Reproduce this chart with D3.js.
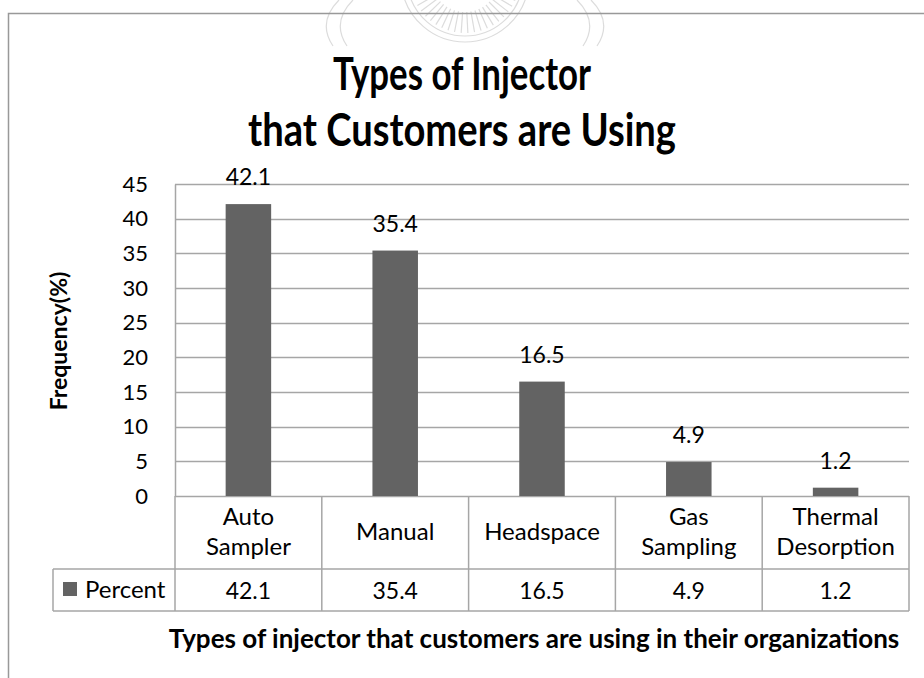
<!DOCTYPE html>
<html>
<head>
<meta charset="utf-8">
<script src="https://cdn.jsdelivr.net/npm/d3@7"></script>
<style>
  html, body { margin: 0; padding: 0; background: #fff; }
  svg { display: block; }
  text { font-family: Lato, "Open Sans", sans-serif; fill: #000; }
</style>
</head>
<body>
<svg id="chart" width="924" height="678"></svg>
<script>
// Injector types and the share of customers using each
const categories = [["Auto", "Sampler"], ["Manual"], ["Headspace"], ["Gas", "Sampling"], ["Thermal", "Desorption"]];
const percentValues = [42.1, 35.4, 16.5, 4.9, 1.2];
const yTicks = [0, 5, 10, 15, 20, 25, 30, 35, 40, 45];
const seriesName = "Percent";
const titleLines = ["Types of Injector", "that Customers are Using"];
const xAxisTitle = "Types of injector that customers are using in their organizations";
const yAxisTitle = "Frequency(%)";

const W = 924, H = 678;
const plot = { left: 175, right: 909, top: 184, bottom: 496 };
const tableRow1 = 569, tableBottom = 611, legendLeft = 53;
const gridColor = "#a6a6a6", barColor = "#636363", frameColor = "#999999";

const svg = d3.select("#chart");
const keys = categories.map(c => c.join(" "));

const x = d3.scaleBand().domain(keys).range([plot.left, plot.right]).padding(0);
const y = d3.scaleLinear().domain([0, 45]).range([plot.bottom, plot.top]);
const barW = x.bandwidth() * 0.31;

// squeeze a text element to a maximum width (narrow typeface look)
function fitWidth(sel, maxW) {
  sel.each(function () {
    const len = this.getComputedTextLength();
    if (len > maxW) d3.select(this).attr("textLength", maxW).attr("lengthAdjust", "spacingAndGlyphs");
  });
  return sel;
}

// faint page emblem behind the top edge
const seal = svg.append("g").attr("fill", "none").attr("stroke", "#dcdcdc").attr("stroke-width", 1.2);
const sc = { x: 465, y: -22 };
const arcGen = d3.arc();
[58, 64].forEach(r => {
  seal.append("path").attr("transform", `translate(${sc.x},${sc.y})`)
    .attr("d", arcGen({ innerRadius: r, outerRadius: r, startAngle: Math.PI * 0.55, endAngle: Math.PI * 1.45 }));
});
d3.range(100, 261, 7).forEach(deg => {
  const a = deg * Math.PI / 180;
  seal.append("line")
    .attr("x1", sc.x + Math.sin(a) * 34).attr("y1", sc.y - Math.cos(a) * 34)
    .attr("x2", sc.x + Math.sin(a) * 55).attr("y2", sc.y - Math.cos(a) * 55);
});
[[-1, 0], [-1, 14], [1, 0], [1, 14]].forEach(([side, off]) => {
  const x0 = sc.x + side * (112 + off);
  seal.append("path")
    .attr("d", `M${x0},0 Q${x0 + side * 22},22 ${x0 + side * 6},46`);
});

// outer frame (left and top edges)
svg.append("path")
  .attr("d", `M8.5,${H} V13.5 H${W}`)
  .attr("fill", "none").attr("stroke", frameColor).attr("stroke-width", 1.5);

// title
const titleWidths = [258, 428];
titleLines.forEach((t, i) => {
  svg.append("text").attr("x", 462).attr("y", 90 + i * 56)
    .attr("text-anchor", "middle").style("font-weight", "bold").style("font-size", "46px")
    .text(t).call(fitWidth, titleWidths[i]);
});

// horizontal gridlines
svg.append("g").selectAll("line").data(yTicks).join("line")
  .attr("x1", plot.left).attr("x2", plot.right)
  .attr("y1", d => Math.round(y(d)) + 0.5).attr("y2", d => Math.round(y(d)) + 0.5)
  .attr("stroke", gridColor).attr("stroke-width", 1.5);

// y axis
const yAxis = svg.append("g")
  .attr("transform", `translate(${plot.left},0)`)
  .call(d3.axisLeft(y).tickValues(yTicks).tickSize(0).tickPadding(27));
yAxis.select(".domain").attr("stroke", gridColor).attr("stroke-width", 1.5);
yAxis.selectAll("text").style("font-size", "22px").attr("fill", "#000")
  .style("font-family", "Lato, sans-serif");

svg.append("text")
  .attr("transform", `translate(67,341) rotate(-90)`)
  .attr("text-anchor", "middle").style("font-weight", "bold").style("font-size", "23px")
  .text(yAxisTitle).call(fitWidth, 148);

// bars
svg.append("g").selectAll("rect").data(percentValues).join("rect")
  .attr("x", (d, i) => x(keys[i]) + (x.bandwidth() - barW) / 2)
  .attr("width", barW)
  .attr("y", d => y(d))
  .attr("height", d => y(0) - y(d))
  .attr("fill", barColor);

// value labels
svg.append("g").selectAll("text").data(percentValues).join("text")
  .attr("x", (d, i) => x(keys[i]) + x.bandwidth() / 2)
  .attr("y", d => y(d) - 19)
  .attr("text-anchor", "middle").style("font-size", "23px")
  .text(d => d);

// data table under the plot
const tbl = svg.append("g").attr("stroke", gridColor).attr("stroke-width", 1.5).attr("fill", "none");
const colEdges = keys.map(k => x(k)).concat([plot.right]);
colEdges.forEach(cx => {
  tbl.append("line").attr("x1", cx).attr("x2", cx).attr("y1", plot.bottom).attr("y2", tableBottom);
});
tbl.append("line").attr("x1", legendLeft).attr("x2", plot.right).attr("y1", tableRow1).attr("y2", tableRow1);
tbl.append("line").attr("x1", legendLeft).attr("x2", plot.right).attr("y1", tableBottom).attr("y2", tableBottom);
tbl.append("line").attr("x1", legendLeft).attr("x2", legendLeft).attr("y1", tableRow1).attr("y2", tableBottom);

// category names
const catG = svg.append("g");
categories.forEach((lines, i) => {
  const cx = x(keys[i]) + x.bandwidth() / 2;
  const baseY = lines.length === 1 ? 540 : 525;
  lines.forEach((ln, j) => {
    catG.append("text").attr("x", cx).attr("y", baseY + j * 30)
      .attr("text-anchor", "middle").style("font-size", "24px").text(ln)
      .call(fitWidth, x.bandwidth() - 14);
  });
});

// table values
svg.append("g").selectAll("text").data(percentValues).join("text")
  .attr("x", (d, i) => x(keys[i]) + x.bandwidth() / 2)
  .attr("y", 599)
  .attr("text-anchor", "middle").style("font-size", "23px")
  .text(d => d);

// legend key in the table
svg.append("rect").attr("x", 63).attr("y", 582).attr("width", 14).attr("height", 14).attr("fill", barColor);
svg.append("text").attr("x", 85).attr("y", 598).style("font-size", "24px").text(seriesName)
  .call(fitWidth, 82);

// x axis title
svg.append("text").attr("x", 534).attr("y", 648).attr("text-anchor", "middle")
  .style("font-weight", "bold").style("font-size", "26px").text(xAxisTitle)
  .call(fitWidth, 738);
</script>
</body>
</html>
